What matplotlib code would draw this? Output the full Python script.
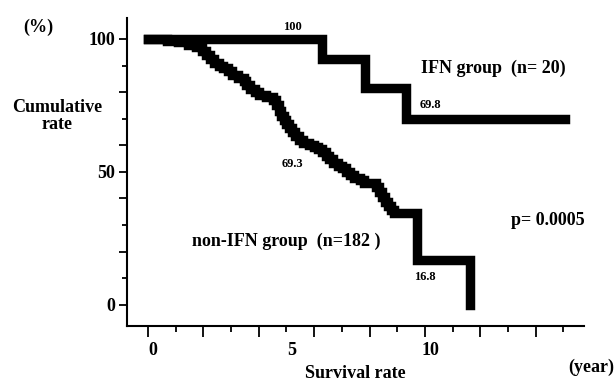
import matplotlib
matplotlib.use('Agg')
import matplotlib.pyplot as plt
import matplotlib.transforms as mtransforms

plt.rcParams['font.family'] = ['Liberation Serif', 'DejaVu Serif']
plt.rcParams['font.weight'] = 'bold'

# survival curves (years, %)
ifn_t = [0, 6.3, 7.85, 9.3, 15.05]
ifn_s = [100, 92.3, 81.5, 69.8, 69.8]

non_t = [0, 0.7, 1.1, 1.45, 1.75, 1.95, 2.1, 2.25, 2.4, 2.55, 2.7, 2.9,
         3.05, 3.25, 3.45, 3.55, 3.7, 3.85, 4.0, 4.25, 4.5, 4.62, 4.72, 4.8,
         4.9, 5.0, 5.1, 5.2, 5.3, 5.45, 5.6, 5.8, 6.0, 6.15, 6.3, 6.42,
         6.55, 6.68, 6.85, 7.0, 7.15, 7.3, 7.45, 7.65, 7.8, 8.25, 8.35, 8.45,
         8.55, 8.65, 8.78, 8.9, 9.71, 11.62]
non_s = [100, 99.3, 98.8, 97.8, 96.8, 95.5, 94, 92.5, 91, 90, 89, 88,
         86.5, 85.5, 84, 82.5, 81, 80, 79, 78, 77, 75, 73, 71,
         69.5, 68, 66.5, 65, 63.5, 62, 61, 60, 59.3, 58.5, 57.3, 56,
         54.8, 53.5, 52.3, 51.3, 50, 48.8, 47.8, 46.8, 46, 44.5, 42.5, 40.5,
         38.5, 37, 35.5, 34.6, 16.8, 0]

x_ticks = list(range(0, 16))
x_labels = {0: '0', 5: '5', 10: '10'}
y_ticks = list(range(0, 101, 10))
y_labels = {0: '0', 50: '50', 100: '100'}

fig = plt.figure(figsize=(6.16, 3.82), dpi=100)
ax = fig.add_axes([0.206, 0.147, 0.742, 0.806])

ax.step(ifn_t, ifn_s, where='post', color='black', lw=6.8,
        solid_capstyle='projecting', solid_joinstyle='miter')
ax.step(non_t, non_s, where='post', color='black', lw=6.8,
        solid_capstyle='projecting', solid_joinstyle='miter')

ax.set_xlim(-0.76, 15.74)
ax.set_ylim(-7.9, 107.9)

for s in ['top', 'right']:
    ax.spines[s].set_visible(False)
for s in ['left', 'bottom']:
    ax.spines[s].set_linewidth(1.5)

ax.set_xticks(x_ticks)
ax.set_xticklabels([x_labels.get(t, '') for t in x_ticks])
ax.set_yticks(y_ticks)
ax.set_yticklabels([y_labels.get(t, '') for t in y_ticks])
ax.tick_params(axis='both', direction='out', width=1.3, labelsize=13)
ax.tick_params(axis='x', pad=8)
ax.tick_params(axis='y', pad=5)

for t, tk in zip(x_ticks, ax.xaxis.get_major_ticks()):
    tk.tick1line.set_markersize(8 if t % 2 == 0 else 4)
for v, tk in zip(y_ticks, ax.yaxis.get_major_ticks()):
    tk.tick1line.set_markersize(6 if v % 20 == 0 or v == 50 else 3.5)

shift = mtransforms.ScaledTranslation(5 / 100, 0, fig.dpi_scale_trans)
for lab in ax.get_xticklabels():
    lab.set_transform(lab.get_transform() + shift)

# annotations
ax.text(5.2, 104.5, '100', fontsize=9, ha='center', va='center')
ax.text(10.2, 75, '69.8', fontsize=9, ha='center', va='center')
ax.text(5.2, 53, '69.3', fontsize=9, ha='center', va='center')
ax.text(10.0, 10.5, '16.8', fontsize=9, ha='center', va='center')
ax.text(9.86, 89, 'IFN group  (n= 20)', fontsize=13, ha='left', va='center')
ax.text(1.59, 24, 'non-IFN group  (n=182 )', fontsize=13, ha='left', va='center')
ax.text(13.1, 31.6, 'p= 0.0005', fontsize=13, ha='left', va='center')

fig.text(38 / 616, 1 - 27 / 382, '(%)', fontsize=13, ha='center', va='center')
fig.text(57 / 616, 1 - 116 / 382, 'Cumulative\nrate', fontsize=13,
         ha='center', va='center', linespacing=1.0)
fig.text(355 / 616, 1 - 373 / 382, 'Survival rate', fontsize=13,
         ha='center', va='center')
fig.text(591 / 616, 1 - 367 / 382, '(year)', fontsize=13,
         ha='center', va='center')

fig.savefig('out.png', dpi=100)
